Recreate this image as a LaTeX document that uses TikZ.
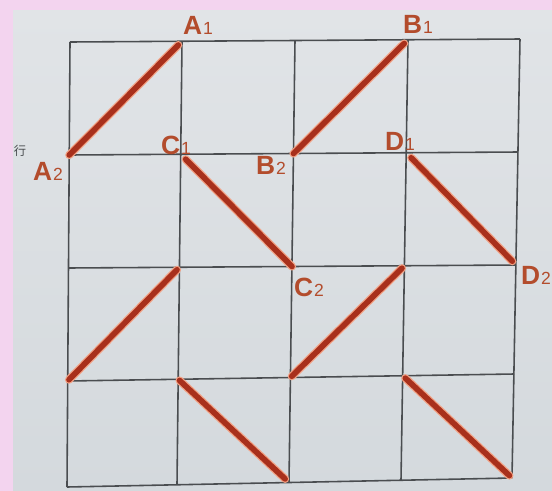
\documentclass[tikz,border=0pt]{standalone}
\usepackage{fontspec}
\usepackage{tikz}
\usetikzlibrary{positioning}
\setmainfont{Liberation Sans}
\newfontfamily\cjk{Noto Sans CJK SC}
\definecolor{Pink}{HTML}{F3D4EF}
\definecolor{PaperT}{HTML}{E1E4E7}
\definecolor{PaperB}{HTML}{D4D9DD}
\definecolor{Grid}{HTML}{4A4D50}
\definecolor{Cut}{HTML}{A8301C}
\definecolor{Glow}{HTML}{F2A184}
\definecolor{Lab}{HTML}{B34C2C}
\newcommand{\ptlab}[2]{{\fontsize{15}{15}\selectfont\bfseries #1}\kern0.5pt{\fontsize{10}{10}\selectfont #2}}
\tikzset{
  gridline/.style={Grid,line width=0.9pt},
  cutglow/.style={Glow,line width=4.6pt,line cap=round},
  cutline/.style={Cut,line width=3.2pt,line cap=round},
  ptname/.style={Lab,inner sep=0pt}
}

\begin{document}
\begin{tikzpicture}[x=0.02cm,y=-0.02cm]
  \useasboundingbox (0,0) rectangle (552,491);
  \fill[Pink] (0,0) rectangle (552,491);
  \shade[top color=PaperT,bottom color=PaperB] (13,10) rectangle (552,491);
  % grid points, slightly skewed like the photo
  \foreach \i/\xt/\xb in {0/70/67,1/182/177,2/295/289,3/408/401,4/520/512} {
    \foreach \j/\yl/\yr in {0/42/39,1/155/152,2/268/265,3/381/374,4/487/478} {
      \coordinate (p\i\j) at ({\xt+(\xb-\xt)*\j/4},{\yl+(\yr-\yl)*\i/4});
    }
  }
  \foreach \k in {0,...,4} {
    \draw[gridline] (p\k0) -- (p\k4);
    \draw[gridline] (p0\k) -- (p4\k);
  }
  % red cuts
  \foreach \a/\b/\sa/\sb in {01/10/0/3, 21/30/0/3, 11/22/4/0, 31/42/4/3,
                             03/12/1/2, 23/32/1/2, 13/24/1/3, 33/44/2/2} {
    \draw[cutglow,shorten <=\sa pt,shorten >=\sb pt] (p\a) -- (p\b);
    \draw[cutline,shorten <=\sa pt,shorten >=\sb pt] (p\a) -- (p\b);
  }
  % point names
  \node[ptname] (labA1) at (198,25) {\ptlab{A}{1}};
  \node[ptname] (labB1) at (418,24) {\ptlab{B}{1}};
  \node[ptname] (labA2) at (48,171) {\ptlab{A}{2}};
  \node[ptname] (labC1) at (176,145) {\ptlab{C}{1}};
  \node[ptname] (labB2) at (271,165) {\ptlab{B}{2}};
  \node[ptname] (labD1) at (400,141) {\ptlab{D}{1}};
  \node[ptname] (labC2) at (309,287) {\ptlab{C}{2}};
  \node[ptname] (labD2) at (536,275) {\ptlab{D}{2}};
  \node[Grid,inner sep=0pt,font=\cjk\fontsize{7}{7}\selectfont] (hang) at (20,151) {行};
\end{tikzpicture}
\end{document}
